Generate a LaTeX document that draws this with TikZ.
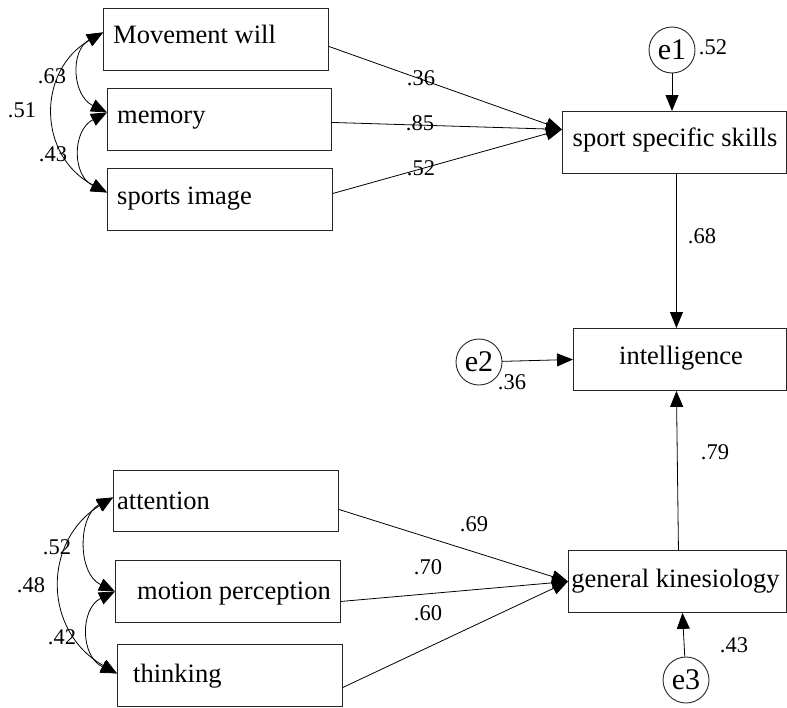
\documentclass[tikz,border=0pt]{standalone}
\usepackage{fontspec}
\setmainfont{Liberation Serif}
\usetikzlibrary{arrows.meta,calc}
\begin{document}
\begin{tikzpicture}[x=1pt,y=-1pt,
  box/.style={draw=black!85, line width=0.9pt, minimum height=62, inner sep=0, anchor=north west},
  btxt/.style={inner sep=0, font=\fontsize{26.5}{30}\selectfont},
  lbl/.style={inner sep=0, font=\fontsize{22.5}{26}\selectfont},
  ecirc/.style={draw=black!85, line width=0.9pt, circle, minimum size=46, inner sep=0, font=\fontsize{30}{34}\selectfont},
  arr/.style={line width=0.8pt, -{Triangle[length=16pt,width=13pt]}},
  cov/.style={line width=0.8pt, {Triangle[length=16pt,width=13pt]}-{Triangle[length=16pt,width=13pt]}}
]
\useasboundingbox (0,0) rectangle (787,707);

% top exogenous boxes
\node[box, minimum width=225] (mw) at (103,8) {};
\node[btxt, anchor=base west] (mwt) at (113,43) {Movement will};
\node[box, minimum width=224] (mem) at (107,88) {};
\node[btxt, anchor=base west] (memt) at (117,123) {memory};
\node[box, minimum width=225] (si) at (107,168) {};
\node[btxt, anchor=base west] (sit) at (117,204) {sports image};

% bottom exogenous boxes
\node[box, minimum width=225, minimum height=61] (att) at (113,470) {};
\node[btxt, anchor=base west] (attt) at (117,509) {attention};
\node[box, minimum width=225] (mot) at (115,560) {};
\node[btxt, anchor=base west] (mott) at (137,599) {motion perception};
\node[box, minimum width=225] (thk) at (117,644) {};
\node[btxt, anchor=base west] (thkt) at (133,682) {thinking};

% endogenous boxes
\node[box, minimum width=224] (ssk) at (562,111) {};
\node[btxt, anchor=base] (sskt) at (675,146) {sport specific skills};
\node[box, minimum width=213] (int) at (573,328) {};
\node[btxt, anchor=base] (intt) at (681,364) {intelligence};
\node[box, minimum width=218] (gk) at (568,550) {};
\node[btxt, anchor=base] (gkt) at (675.5,587) {general kinesiology};

% error terms
\node[ecirc] (e1) at (672,50) {e1};
\node[ecirc] (e2) at (479,362) {e2};
\node[ecirc] (e3) at (686,680) {e3};

% regression paths
\coordinate (sskin) at ($(ssk.west)+(0,-13)$);
\draw[arr] ($(mw.east)+(0,7)$) -- (sskin);
\draw[arr] ($(mem.east)+(0,3)$) -- (sskin);
\draw[arr] ($(si.east)+(0,-6)$) -- (sskin);

\draw[arr] ($(att.east)+(0,8.5)$) -- (gk.west);
\draw[arr] ($(mot.east)+(0,10)$) -- (gk.west);
\draw[arr] ($(thk.east)+(0,12)$) -- (gk.west);

\draw[arr] ($(ssk.south)+(2,0)$) -- ($(int.north)+(-3.5,0)$);
\draw[arr] ($(gk.north)+(1,0)$) -- ($(int.south)+(-3.5,0)$);

\draw[arr] (e1) -- (e1 |- ssk.north);
\draw[arr] (e2) -- (int.west);
\draw[arr] (e3) -- ($(gk.south)+(5,0)$);

% covariances top
\coordinate (mwc) at ($(mw.west)+(0,-7)$);
\coordinate (memc) at ($(mem.west)+(0,-7)$);
\coordinate (sic) at ($(si.west)+(0,-7)$);
\draw[cov] (mwc) .. controls +(-33,18) and +(-35,-17) .. (memc);
\draw[cov] (memc) .. controls +(-35,18) and +(-35,-17) .. (sic);
\draw[cov] (mwc) .. controls +(-66,38) and +(-70,-37) .. (sic);

% covariances bottom
\coordinate (attc) at ($(att.west)+(0,-3.5)$);
\coordinate (motc) at (mot.west);
\coordinate (thkc) at ($(thk.west)+(0,-2)$);
\draw[cov] (attc) .. controls +(-35,18) and +(-38,-18) .. (motc);
\draw[cov] (motc) .. controls +(-35,17) and +(-37,-17) .. (thkc);
\draw[cov] (attc) .. controls +(-70,43) and +(-75,-43) .. (thkc);

% labels
\node[lbl] (l36) at (421,78) {.36};
\node[lbl] (l85) at (420,123) {.85};
\node[lbl] (l52a) at (421,168) {.52};
\node[lbl] (le1) at (713,47) {.52};
\node[lbl] (l68) at (702,236) {.68};
\node[lbl] (le2) at (512,382) {.36};
\node[lbl] (l79) at (715,452) {.79};
\node[lbl] (l69) at (474,524) {.69};
\node[lbl] (l70) at (428,567) {.70};
\node[lbl] (l60) at (428,613) {.60};
\node[lbl] (le3) at (734,645) {.43};
\node[lbl] (l63) at (52,76) {.63};
\node[lbl] (l51) at (22,110) {.51};
\node[lbl] (l43) at (53,154) {.43};
\node[lbl] (l52b) at (57,547) {.52};
\node[lbl] (l48) at (31,585) {.48};
\node[lbl] (l42) at (62,637) {.42};
\end{tikzpicture}
\end{document}
